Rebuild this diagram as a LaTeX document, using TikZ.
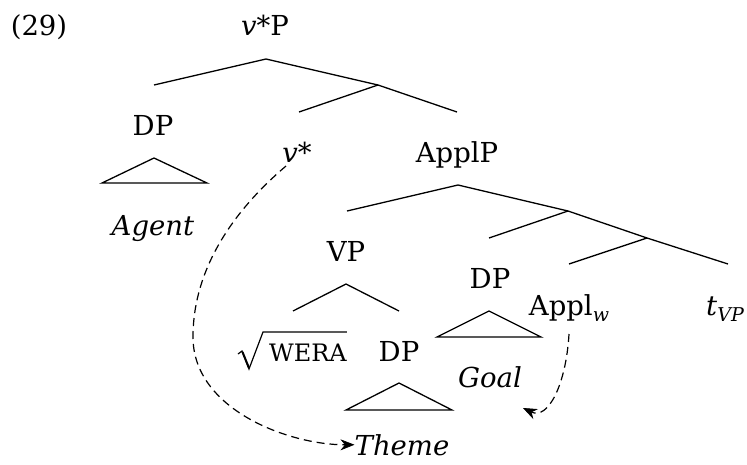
\documentclass[tikz,border=0pt]{standalone}
\usepackage{fontspec}
\setmainfont{DejaVu Serif}
\usetikzlibrary{arrows.meta}
\newcommand{\subtx}[1]{\raisebox{-0.22em}{\fontsize{19}{19}\selectfont\itshape #1}}
\begin{document}
\begin{tikzpicture}[x=1pt,y=-1pt,
  lbl/.style={anchor=base,inner sep=0pt,font=\fontsize{27.5}{30}\selectfont},
  branch/.style={line width=1.3pt,line join=round},
  tri/.style={line width=1.3pt,line join=miter},
  radical/.style={line width=1.2pt,line join=miter},
  mvarrow/.style={line width=1.2pt,dash pattern=on 8pt off 5pt,
    -{Stealth[length=14pt,width=11pt,inset=4.5pt,line width=0.6pt]}}]
\useasboundingbox (0,0) rectangle (747,464);
% labels
\node[lbl] (n29) at (39,35) {(29)};
\node[lbl] (vP) at (265,35) {\textit{v}*P};
\node[lbl] (dpA) at (153,135) {DP};
\node[lbl] (agent) at (153,235) {\textit{Agent}};
\node[lbl] (vstar) at (297,162) {\textit{v}*};
\node[lbl] (applP) at (457,162) {ApplP};
\node[lbl] (vp) at (346,261) {VP};
\node[lbl,font=\fontsize{24}{26}\selectfont] (wera) at (308,361) {WERA};
\node[lbl] (dpT) at (399,361) {DP};
\node[lbl] (dpG) at (490,288) {DP};
\node[lbl] (goal) at (490,387) {\textit{Goal}};
\node[lbl] (applw) at (569,315) {Appl\subtx{w}};
\node[lbl] (tvp) at (725,315) {\textit{t}\subtx{VP}};
\node[lbl] (theme) at (402,455) {\textit{Theme}};
% radical sign over WERA
\draw[radical] (238,354) -- (242,351) -- (249,369) -- (263,332) -- (wera.north east |- 0,332);
\draw[line width=2pt] (242.5,352) -- (249,368);
% branch points
\coordinate (r0) at (266,59);
\coordinate (r0l) at (154,85);
\coordinate (r1) at (378,85);
\coordinate (r1l) at (299,112);
\coordinate (r1r) at (457,112);
\coordinate (a0) at (458,185);
\coordinate (a0l) at (347,211);
\coordinate (a1) at (568,211);
\coordinate (a1l) at (489,238);
\coordinate (a2) at (647,238);
\coordinate (a2l) at (569,264);
\coordinate (a2r) at (728,264);
\coordinate (v0) at (346,284);
\coordinate (v0l) at (293,311);
\coordinate (v0r) at (399,311);
% tree lines
\draw[branch] (r0l) -- (r0) -- (r1) -- (r1r);
\draw[branch] (r1l) -- (r1);
\draw[branch] (a0l) -- (a0) -- (a1) -- (a2) -- (a2r);
\draw[branch] (a1l) -- (a1);
\draw[branch] (a2l) -- (a2);
\draw[branch] (v0l) -- (v0) -- (v0r);
% triangles
\draw[tri] (154,158) -- (102,183) -- (207,183) -- cycle;
\draw[tri] (399,383) -- (346,410) -- (452,410) -- cycle;
\draw[tri] (489,311) -- (437,337) -- (541,337) -- cycle;
% movement arrows
\coordinate (m1s) at (286,166);
\coordinate (m1m) at (193,337);
\coordinate (m2s) at (569,334);
\coordinate (m2e) at (523,408);
\draw[mvarrow] (m1s) .. controls (232,212) and (193,270) .. (m1m)
  .. controls (193,410) and (290,445) .. (theme.west);
\draw[mvarrow] (m2s) .. controls (566,385) and (548,420) .. (m2e);
\end{tikzpicture}
\end{document}
